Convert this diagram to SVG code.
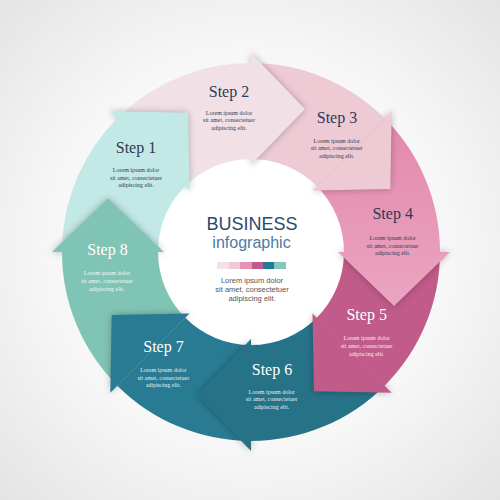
<svg xmlns="http://www.w3.org/2000/svg" width="500" height="500" viewBox="0 0 500 500">
<defs>
<radialGradient id="bg" cx="250" cy="250" r="360" gradientUnits="userSpaceOnUse">
<stop offset="0" stop-color="#ffffff"/>
<stop offset="0.55" stop-color="#f7f7f7"/>
<stop offset="1" stop-color="#e3e3e3"/>
</radialGradient>
<linearGradient id="g4" x1="0" y1="120" x2="0" y2="300" gradientUnits="userSpaceOnUse">
<stop offset="0" stop-color="#e389ac"/>
<stop offset="1" stop-color="#eaa4c0"/>
</linearGradient>
<filter id="sh" x="-30%" y="-30%" width="160%" height="160%">
<feGaussianBlur stdDeviation="3.5"/>
</filter>
<clipPath id="clip1">
<path d="M62.26 242.1 A189 189 0 0 1 117.36 118.36 L185.24 186.24 A93 93 0 0 0 158.17 246.38 L108 198 Z"/>
</clipPath>
<style>
.shd{fill:#000;fill-opacity:0.28;filter:url(#sh)}
.lbl{font-family:"Liberation Serif","Times New Roman",serif;font-size:16px;text-anchor:middle}
.dsc{font-family:"Liberation Serif","Times New Roman",serif;font-size:6px;text-anchor:middle}
.dk{fill:#2f3a52}
.lt{fill:#ffffff}
.dsc.lt{fill-opacity:0.92}
.ctr{font-family:"Liberation Sans",Arial,sans-serif;text-anchor:middle}
</style>
</defs>
<rect width="500" height="500" fill="url(#bg)"/>
<circle cx="251" cy="252" r="93" fill="#ffffff"/>

<g id="connectors"></g>

<g id="step8">
<path class="shd" d="M52 252 L108 198 L164 252 Z"/>
<path d="M117.36 385.64 A189 189 0 0 1 62 252 L158 252 A93 93 0 0 0 185.24 317.76 Z" fill="#80c4b6"/>
<path d="M52 252 L108 198 L164 252 Z" fill="#80c4b6"/>
<text class="lbl lt" x="107.5" y="255">Step 8</text>
<text class="dsc lt" x="107" y="275.3">Lorem ipsum dolor</text>
<text class="dsc lt" x="107" y="283">sit amet, consectetuer</text>
<text class="dsc lt" x="107" y="290.5">adipiscing elit.</text>
</g>

<g id="step7">
<path class="shd" d="M110.3 392.7 L111.7 314.9 L189.5 313.5 Z"/>
<path d="M251 441 A189 189 0 0 1 117.36 385.64 L185.24 317.76 A93 93 0 0 0 251 345 Z" fill="#287b92"/>
<path d="M110.3 392.7 L111.7 314.9 L189.5 313.5 Z" fill="#287b92"/>
<text class="lbl lt" x="163.5" y="351.7">Step 7</text>
<text class="dsc lt" x="163.3" y="372">Lorem ipsum dolor</text>
<text class="dsc lt" x="163.3" y="379.7">sit amet, consectetuer</text>
<text class="dsc lt" x="163.3" y="387.3">adipiscing elit.</text>
</g>

<g id="step6">
<path class="shd" d="M251 451 L197 395 L251 339 Z"/>
<path d="M384.64 385.64 A189 189 0 0 1 251 441 L251 345 A93 93 0 0 0 316.76 317.76 Z" fill="#267287"/>
<path d="M251 451 L197 395 L251 339 Z" fill="#267287"/>
<text class="lbl lt" x="272" y="375">Step 6</text>
<text class="dsc lt" x="271.7" y="393.7">Lorem ipsum dolor</text>
<text class="dsc lt" x="271.7" y="401.3">sit amet, consectetuer</text>
<text class="dsc lt" x="271.7" y="409">adipiscing elit.</text>
</g>

<g id="step5">
<path class="shd" d="M391.7 392.7 L313.9 391.3 L312.5 313.5 Z"/>
<path d="M440 252 A189 189 0 0 1 384.64 385.64 L316.76 317.76 A93 93 0 0 0 344 252 Z" fill="#c05b8a"/>
<path d="M391.7 392.7 L313.9 391.3 L312.5 313.5 Z" fill="#c05b8a"/>
<text class="lbl lt" x="366.7" y="320">Step 5</text>
<text class="dsc lt" x="366.7" y="340">Lorem ipsum dolor</text>
<text class="dsc lt" x="366.7" y="347.8">sit amet, consectetuer</text>
<text class="dsc lt" x="366.7" y="355.5">adipiscing elit.</text>
</g>

<g id="step4">
<path class="shd" d="M450 252 L394 306 L338 252 Z"/>
<path d="M384.64 118.36 A189 189 0 0 1 440 252 L344 252 A93 93 0 0 0 316.76 186.24 Z" fill="url(#g4)"/>
<path d="M450 252 L394 306 L338 252 Z" fill="url(#g4)"/>
<text class="lbl dk" x="392.7" y="219.3">Step 4</text>
<text class="dsc dk" x="392.7" y="240">Lorem ipsum dolor</text>
<text class="dsc dk" x="392.7" y="247.5">sit amet, consectetuer</text>
<text class="dsc dk" x="392.7" y="255">adipiscing elit.</text>
</g>

<g id="step3">
<path class="shd" d="M391.7 111.3 L390.3 189.1 L312.5 190.5 Z"/>
<path d="M251 63 A189 189 0 0 1 384.64 118.36 L316.76 186.24 A93 93 0 0 0 251 159 Z" fill="#eecad5"/>
<path d="M391.7 111.3 L390.3 189.1 L312.5 190.5 Z" fill="#eecad5"/>
<text class="lbl dk" x="337" y="123.3">Step 3</text>
<text class="dsc dk" x="336.7" y="142.7">Lorem ipsum dolor</text>
<text class="dsc dk" x="336.7" y="150.3">sit amet, consectetuer</text>
<text class="dsc dk" x="336.7" y="158">adipiscing elit.</text>
</g>

<g id="step2">
<path class="shd" d="M251 53 L305 109 L251 165 Z"/>
<path d="M117.36 118.36 A189 189 0 0 1 251 63 L251 159 A93 93 0 0 0 185.24 186.24 Z" fill="#f1e1e7"/>
<path d="M251 53 L305 109 L251 165 Z" fill="#f1e1e7"/>
<text class="lbl dk" x="229" y="97.3">Step 2</text>
<text class="dsc dk" x="229" y="114.5">Lorem ipsum dolor</text>
<text class="dsc dk" x="229" y="122">sit amet, consectetuer</text>
<text class="dsc dk" x="229" y="129.5">adipiscing elit.</text>
</g>

<g id="step1">
<path class="shd" d="M110.3 111.3 L188.1 112.7 L189.5 190.5 Z"/>
<path d="M62.26 242.1 A189 189 0 0 1 117.36 118.36 L185.24 186.24 A93 93 0 0 0 158.17 246.38 L108 198 Z" fill="#c3e9e6"/>
<g clip-path="url(#clip1)">
<path class="shd" d="M52 252 L108 198 L164 252 Z"/>
</g>
<path d="M110.3 111.3 L188.1 112.7 L189.5 190.5 Z" fill="#c3e9e6"/>
<text class="lbl dk" x="136" y="153">Step 1</text>
<text class="dsc dk" x="136" y="172">Lorem ipsum dolor</text>
<text class="dsc dk" x="136" y="179.5">sit amet, consectetuer</text>
<text class="dsc dk" x="136" y="187">adipiscing elit.</text>
</g>

<g id="center">
<text class="ctr" x="252" y="230" font-size="18" fill="#2b4a66">BUSINESS</text>
<text class="ctr" x="251.5" y="248.3" font-size="16" fill="#4e7aa5">infographic</text>
<rect x="217" y="262" width="11.5" height="7" fill="#f2e2e8"/>
<rect x="228.5" y="262" width="11.5" height="7" fill="#efc9d5"/>
<rect x="240" y="262" width="11.5" height="7" fill="#e593b5"/>
<rect x="251.5" y="262" width="11.5" height="7" fill="#c15b8b"/>
<rect x="263" y="262" width="11.5" height="7" fill="#237a94"/>
<rect x="274.5" y="262" width="11.5" height="7" fill="#86c8b8"/>
<text class="ctr" x="252" y="282.5" font-size="7.5" fill="#555555">Lorem ipsum dolor</text>
<text class="ctr" x="252" y="291.5" font-size="7.5" fill="#555555">sit amet, consectetuer</text>
<text class="ctr" x="252" y="300.5" font-size="7.5" fill="#555555">adipiscing elit.</text>
</g>
</svg>
